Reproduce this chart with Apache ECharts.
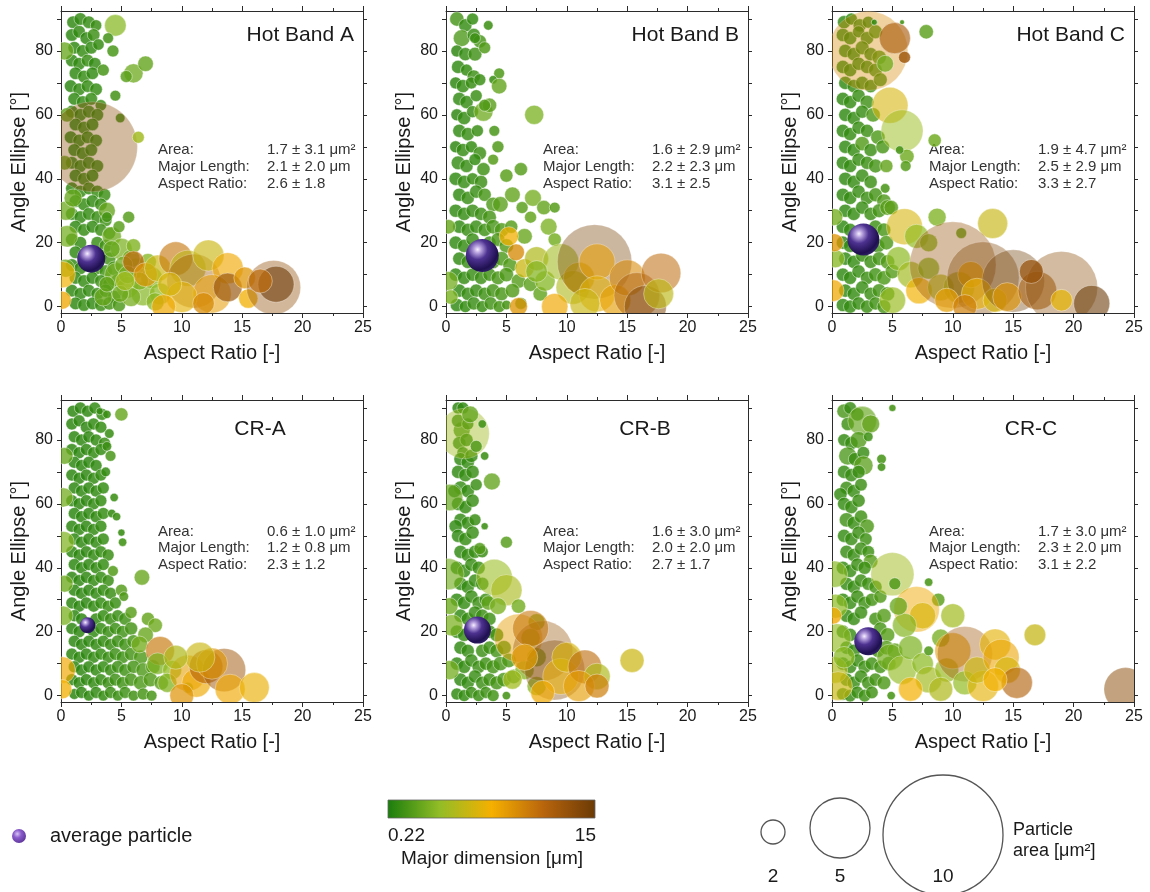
<!DOCTYPE html>
<html>
<head>
<meta charset="utf-8">
<title>Angle ellipse vs aspect ratio</title>
<script src="https://cdn.jsdelivr.net/npm/echarts@6/dist/echarts.min.js"></script>
<style>
html, body { margin: 0; padding: 0; background: #fff; }
#chart { width: 1150px; height: 892px; }
</style>
</head>
<body>
<div id="chart"></div>
<script>
// one particle per entry: [aspect ratio, angle ellipse (deg), area (um2), major dimension (um)]
var hotBandA = [
  [1.0,89,1.05,0.8],[1.6,90,1.05,0.9],[2.3,89,1.05,1.0],[2.9,88,0.95,1.1],
  [0.9,85,1.05,0.7],[1.5,86,1.05,0.9],[2.1,84,1.05,0.8],[2.7,85,1.05,1.2],
  [1.1,81,1.05,0.8],[1.8,80,1.05,1.0],[2.5,81,1.05,0.9],[3.1,82,0.95,1.0],
  [0.9,77,1.05,0.8],[1.5,76,1.05,0.9],[2.2,77,1.05,1.1],[2.8,76,1.05,0.9],
  [1.2,73,1.05,0.8],[1.9,72,1.05,1.0],[2.6,73,1.05,0.9],
  [0.8,69,1.05,0.7],[1.5,68,1.05,0.9],[2.2,69,1.05,1.0],[2.9,68,1.05,1.0],
  [1.1,65,1.05,0.8],[1.8,64,1.05,0.9],[2.5,65,1.05,1.0],[3.3,63,0.95,1.2],
  [0.9,61,1.05,0.8],[1.6,60,1.05,0.9],[2.3,61,1.05,1.0],[3.0,60,1.05,1.1],
  [1.2,57,1.05,0.8],[1.9,56,1.05,1.0],[2.6,57,1.05,0.9],
  [0.8,53,1.05,0.7],[1.5,52,1.05,0.9],[2.2,53,1.05,1.0],[2.9,52,1.05,1.1],
  [1.1,49,1.05,0.8],[1.8,48,1.05,0.9],[2.5,49,1.05,1.0],
  [0.9,45,1.05,0.8],[1.6,44,1.05,0.9],[2.3,45,1.05,1.0],[3.0,44,1.05,1.1],
  [1.2,41,1.05,0.8],[1.9,40,1.05,1.0],[2.6,41,1.05,0.9],
  [0.9,37,1.05,0.8],[1.6,36,1.05,0.9],[2.3,37,1.05,1.0],[3.0,36,1.05,1.1],[3.6,35,1.05,1.2],
  [1.2,33,1.05,0.8],[1.9,32,1.05,1.0],[2.6,33,1.05,0.9],[3.3,32,1.05,1.1],
  [0.9,29,1.05,0.8],[1.6,28,1.05,0.9],[2.3,29,1.05,1.0],[3.0,28,1.05,1.1],[3.7,27,1.05,1.3],
  [1.2,25,1.05,0.8],[1.9,24,1.05,1.0],[2.6,25,1.05,0.9],[3.3,24,1.05,1.2],[4.0,23,1.05,1.3],
  [0.9,21,1.05,0.8],[1.6,20,1.05,0.9],[3.0,20,1.05,1.1],[3.7,19,1.1,1.4],
  [1.2,17,1.05,0.8],[1.9,16,1.05,1.0],[3.3,16,1.05,1.2],[4.0,15,1.1,1.5],
  [0.9,13,1.05,0.8],[1.6,12,1.05,0.9],[2.3,13,1.05,1.0],[3.0,12,1.05,1.1],[3.7,11,1.1,1.4],[4.4,12,1.2,1.6],
  [1.2,9,1.05,0.8],[1.9,8,1.05,1.0],[2.6,9,1.05,0.9],[3.3,8,1.05,1.2],[4.0,7,1.1,1.5],[4.7,8,1.2,1.7],
  [0.9,5,1.05,0.8],[1.6,4,1.05,0.9],[2.3,5,1.05,1.0],[3.0,4,1.05,1.1],[3.7,5,1.1,1.4],[4.4,3,1.1,1.6],
  [1.2,1,1.05,0.8],[1.9,0.5,1.05,1.0],[2.6,1,1.05,0.9],[3.3,0.5,1.05,1.2],[4.0,1,1.1,1.5],[4.8,0.5,1.1,1.7],
  [0.4,30,1.6,2.8],[0.5,22,1.8,3.0],[1.0,34,1.5,2.6],[3.8,30,1.4,2.5],[4.2,22,1.6,2.8],[5.0,18,1.8,3.2],
  [4.6,10,2.0,3.0],[5.5,6,1.8,3.4],[6.2,12,1.7,3.2],[6.8,4,2.0,3.5],[7.5,9,1.8,3.6],[8.2,4,1.8,3.8],
  [5.8,15,1.5,3.0],[3.5,3,1.5,2.6],[0.4,12,1.5,2.7],[0.3,45,1.2,2.5],[0.5,60,1.2,2.3],[0.3,80,1.5,2.6],
  [4.2,18,1.4,2.6],[5.2,13,1.5,2.9],[5.8,3,1.6,3.1],[6.5,8,1.5,3.3],[7.2,14,1.4,3.5],[3.8,7,1.3,2.4],
  [4.9,4,1.4,2.7],[6.0,19,1.2,3.4],[7.8,1.5,1.5,3.6],[5.5,10,1.5,3.0],
  [4.5,88,1.8,3.6],[3.9,84,0.9,1.4],[4.3,80,1.0,1.6],[3.5,74,1.0,1.5],[6.0,73,1.6,2.8],[7.0,76,1.3,2.4],
  [5.4,72,1.0,2.2],[4.5,66,0.9,1.4],[4.9,59,0.8,1.3],[3.8,28,0.9,1.5],[5.6,28,1.0,2.0],[4.8,25,1.0,2.2],
  [2.6,50,7.5,13.5],[6.4,53,1.0,4.5],
  [0.1,10,2.2,7.5],[0.1,2,1.5,8.0],[6.0,14,1.8,11],[7.0,10,2.0,9.0],[8.0,12,2.2,6.0],[9.5,15,2.8,10.5],
  [10.5,12,3.0,5.5],[11.0,8,4.5,12.5],[12.2,16,2.6,6.0],[13.8,12,2.6,8.0],[12.5,4,3.2,8.5],[13.8,6,2.4,13],
  [10.0,3,2.6,7.0],[9.0,7,2.0,6.5],[15.5,2.5,1.6,7.5],[15.2,9,1.8,9.0],[17.6,6,4.5,13],[17.8,7,3.0,15],
  [16.5,8,2.0,11],[8.5,0,2.0,8.0],[11.8,1,1.8,9.5],[5.3,8,1.6,4.5]
];

var hotBandB = [
  [0.9,90,1.2,1.5],[1.6,88,1.1,1.0],[2.2,90,1.0,1.0],
  [1.3,84,1.4,1.7],[2.3,85,1.1,1.1],[2.8,83,1.1,1.6],[3.5,88,0.8,1.2],
  [0.9,80,1.0,0.8],[1.6,79,1.1,1.0],[2.4,79,1.15,1.3],[3.2,81,1.0,1.9],
  [1.0,75,1.1,0.9],[1.7,74,1.0,1.0],[2.3,72,1.1,1.2],
  [0.8,70,1.0,0.8],[1.4,69,1.1,1.0],[2.1,70,1.0,1.1],[2.8,71,1.0,1.2],
  [1.1,65,1.1,0.9],[1.7,64,1.1,1.0],[2.5,66,1.0,1.2],
  [0.9,60,1.0,0.8],[1.5,59,1.1,1.0],[2.2,61,1.0,1.1],[3.1,61,1.6,2.8],[3.6,63,1.2,2.2],
  [1.1,55,1.1,0.9],[1.8,54,1.1,1.1],[2.6,55,1.0,1.1],
  [0.8,50,1.0,0.8],[1.4,49,1.1,1.0],[2.1,50,1.0,1.0],[2.8,48,1.1,1.2],
  [1.0,45,1.15,1.0],[1.7,44,1.1,1.1],[2.4,46,1.0,1.0],[3.1,43,1.1,1.3],
  [0.8,40,1.1,0.9],[1.5,39,1.1,1.0],[2.2,40,1.0,1.1],[2.9,39,1.1,1.2],
  [1.1,35,1.1,0.9],[1.8,34,1.1,1.1],[2.5,36,1.1,1.1],[3.2,35,1.1,1.6],[3.9,32,1.2,1.8],
  [0.8,30,1.1,0.9],[1.5,29,1.1,1.0],[2.2,30,1.1,1.1],[2.9,29,1.1,1.2],[3.6,28,1.15,1.5],
  [1.1,25,1.1,0.9],[1.8,24,1.1,1.1],[2.5,25,1.1,1.1],[3.2,24,1.1,1.3],[3.9,25,1.2,1.6],[4.6,24,1.2,1.8],
  [0.8,20,1.1,0.9],[1.5,19,1.1,1.0],[2.2,21,1.1,1.1],[3.6,20,1.1,1.3],[4.3,21,1.15,1.6],[5.0,19,1.2,1.9],
  [1.1,15,1.1,0.9],[1.8,14,1.1,1.1],[3.9,14,1.15,1.5],[4.6,15,1.2,1.7],[5.3,13,1.2,1.9],
  [0.8,10,1.1,0.9],[1.5,9,1.1,1.0],[2.2,10,1.1,1.1],[2.9,9,1.1,1.2],[3.6,10,1.1,1.4],[4.3,9,1.15,1.6],
  [5.0,10,1.2,1.8],[6.0,8,1.2,2.0],[7.0,7,1.2,2.2],
  [1.1,5,1.1,0.9],[1.8,4,1.1,1.1],[2.5,5,1.1,1.1],[3.2,4,1.1,1.3],[3.9,5,1.15,1.5],[4.6,4,1.15,1.6],
  [5.5,5,1.2,1.9],[7.8,4,1.2,2.4],
  [0.9,0.5,1.1,0.9],[1.6,0,1.0,1.0],[2.3,1,1.1,1.1],[3.0,0,1.0,1.2],[3.7,1,1.1,1.4],[4.4,0,1.0,1.5],
  [5.0,0.5,0.8,1.6],[6.2,1,1.0,1.8],
  [4.4,73,0.9,1.8],[3.9,71,0.7,1.2],[4.4,69,1.3,2.4],[3.2,63,1.0,1.9],[4.0,55,0.9,1.6],[4.3,50,1.0,1.8],
  [3.9,46,0.9,2.0],[5.0,41,1.1,2.1],[6.2,43,1.1,2.0],[7.3,60,1.6,3.2],[5.5,35,1.3,2.4],[4.5,32,1.3,2.2],
  [7.2,34,1.4,3.0],[8.1,31,1.2,2.5],[9.0,31,0.9,2.0],[8.5,25,1.4,3.2],[9.0,21,1.1,3.0],[7.0,28,1.0,2.4],
  [6.3,31,1.0,2.2],[5.4,25,1.1,2.0],[6.5,22,1.3,2.6],[2.4,84,0.9,1.3],
  [0.2,8,1.6,3.0],[0.2,25,1.2,2.6],[0.4,3,1.2,3.2],
  [5.2,22,1.6,7.5],[5.8,17,1.4,9.5],[6.5,12,1.6,6.0],[7.5,15,2.0,5.0],[8.2,8,1.7,3.5],[9.5,14,3.0,4.5],
  [10.5,6,2.8,5.0],[11.0,9,2.6,6.5],[12.3,14,6.2,14.5],[12.5,14,3.0,8.5],[12.5,4,3.0,7.0],[14.0,2,2.6,8.5],
  [15.0,9,3.0,9.5],[15.8,3.5,3.8,12],[16.5,0,3.5,14],[17.8,10.5,3.3,11],[17.6,4,2.5,5.5],[11.5,1,2.5,6.0],
  [9.0,0,2.2,8.0],[6.0,0,1.5,9.0],[7.5,11,1.8,3.5]
];

var hotBandC = [
  [1.0,89,1.1,0.9],[1.6,90,1.0,1.0],[2.3,88,1.1,1.1],[3.0,89,1.0,1.1],
  [0.9,85,1.1,0.9],[1.5,84,1.1,1.0],[2.2,86,1.0,1.1],[2.9,84,1.1,1.2],[3.6,86,1.15,1.6],
  [1.1,80,1.1,0.9],[1.8,79,1.1,1.0],[2.5,81,1.15,1.3],[3.2,79,1.1,1.2],[3.9,78,1.2,1.9],
  [0.9,75,1.1,0.9],[1.5,74,1.1,1.0],[2.2,76,1.1,1.1],[2.9,75,1.1,1.2],[3.6,74,1.15,1.5],
  [1.1,70,1.1,0.9],[1.8,69,1.1,1.0],[2.5,70,1.1,1.1],[3.2,69,1.1,1.2],[4.0,71,1.15,1.6],
  [0.9,65,1.1,0.9],[1.5,64,1.1,1.0],[2.2,66,1.1,1.1],[2.9,64,1.15,1.3],
  [1.1,60,1.1,0.9],[1.8,59,1.1,1.0],[2.5,61,1.1,1.1],[3.4,60,1.2,1.8],
  [0.9,55,1.1,0.9],[1.5,54,1.1,1.0],[2.2,56,1.1,1.1],[2.9,55,1.1,1.2],[3.8,53,1.2,1.7],
  [1.1,50,1.1,0.9],[1.8,49,1.1,1.0],[2.5,51,1.2,1.9],[3.2,49,1.1,1.2],[4.2,50,1.15,1.6],
  [0.9,45,1.1,0.9],[1.5,44,1.1,1.0],[2.2,46,1.1,1.1],[2.9,45,1.1,1.2],[3.6,44,1.15,1.5],
  [1.1,40,1.1,0.9],[1.8,39,1.1,1.0],[2.5,41,1.1,1.1],[3.2,39,1.1,1.2],
  [0.9,35,1.1,0.9],[1.5,34,1.1,1.0],[2.2,36,1.1,1.1],[2.9,34,1.1,1.2],[3.6,35,1.15,1.5],[4.3,33,1.2,1.8],
  [1.1,30,1.1,0.9],[1.8,29,1.1,1.0],[2.5,31,1.1,1.1],[3.2,29,1.1,1.2],[3.9,30,1.15,1.5],[4.6,31,1.3,2.2],
  [0.9,25,1.1,0.9],[1.5,24,1.1,1.0],[3.6,25,1.1,1.3],[4.3,24,1.15,1.6],
  [0.9,20,1.1,0.9],[1.5,19,1.1,1.0],[3.8,19,1.15,1.4],[4.5,20,1.2,1.8],
  [1.1,15,1.1,0.9],[1.8,14,1.1,1.0],[2.5,16,1.1,1.1],[3.2,14,1.1,1.2],[3.9,15,1.15,1.5],[4.6,14,1.2,1.9],
  [0.9,10,1.1,0.9],[1.5,9,1.1,1.0],[2.2,11,1.1,1.1],[2.9,9,1.1,1.2],[3.6,10,1.15,1.4],[4.3,9,1.2,1.7],[5.0,11,1.2,2.0],
  [1.1,5,1.1,0.9],[1.8,4,1.1,1.0],[2.5,6,1.1,1.1],[3.2,4,1.1,1.2],[3.9,5,1.15,1.5],[4.6,4,1.2,1.8],
  [0.9,0.5,1.1,0.9],[1.5,0,1.1,1.0],[2.2,1,1.1,1.1],[2.9,0,1.1,1.2],[3.6,1,1.1,1.4],[4.3,0,1.15,1.6],
  [3.0,80,6.6,9.5],[5.2,84,2.6,12],[6.0,78,1.0,12.5],[4.4,76,1.4,3.0],[4.8,63,3.0,6.5],[5.8,55,3.5,4.3],
  [7.8,86,1.2,2.2],[8.5,52,1.1,2.8],[6.2,47,1.2,2.8],[6.1,44,0.9,2.0],[5.6,49,0.7,1.5],[4.5,44,1.1,2.5],
  [4.4,37,0.8,1.6],[4.9,31,1.2,2.2],[3.5,89,0.5,1.0],[5.8,89,0.4,1.5],
  [0.2,28,1.4,3.0],[0.3,15,1.5,3.6],[0.1,5,1.8,8.0],[0.2,20,1.5,9.0],
  [6.0,25,3.0,6.5],[8.7,28,1.5,3.2],[13.3,26,2.5,5.8],[10.7,23,0.9,2.6],[7.0,22,2.0,4.0],[8.0,20,1.5,3.6],
  [5.5,15,2.0,3.8],[6.5,10,2.2,4.5],[7.2,5,2.2,7.5],[5.0,2,2.2,4.2],[8.0,12,1.8,3.5],[9.0,6,2.2,5.0],
  [10.5,6,2.6,4.8],[10.0,13,7.2,13],[11.5,10,2.2,8.5],[12.5,9,6.0,14],[12.0,4,2.6,7.2],[13.5,2,2.0,6.5],
  [15.0,8,5.2,14.8],[14.5,3,2.4,9.0],[17.0,5,3.2,12],[19.0,6,6.0,13.5],[19.0,2,1.8,7.0],[21.5,1,3.0,15],
  [16.5,11,2.0,13],[9.5,2,2.0,8.5],[11.0,0,2.0,10]
];

var crA = [
  [1.0,89,1.0,0.7],[1.6,90,1.0,0.8],[2.2,89,1.0,0.8],[2.8,90,1.0,0.9],[3.4,88,1.0,1.0],
  [0.9,85,1.0,0.7],[1.5,86,1.0,0.8],[2.1,84,1.0,0.8],[2.7,85,1.0,0.9],[3.3,84,1.0,1.0],
  [1.1,81,1.0,0.7],[1.7,80,1.0,0.8],[2.3,81,1.0,0.8],[2.9,80,1.0,0.9],[3.6,79,1.0,1.1],
  [0.9,77,1.0,0.7],[1.5,76,1.0,0.8],[2.1,77,1.0,0.8],[2.7,76,1.0,0.9],[3.3,77,1.0,1.0],
  [1.1,73,1.0,0.7],[1.7,72,1.0,0.8],[2.3,73,1.0,0.8],[2.9,72,1.0,0.9],
  [0.9,69,1.0,0.7],[1.5,68,1.0,0.8],[2.1,69,1.0,0.8],[2.7,68,1.0,0.9],[3.3,69,1.0,1.0],
  [1.1,65,1.0,0.7],[1.7,64,1.0,0.8],[2.3,65,1.0,0.8],[2.9,64,1.0,0.9],[3.5,65,1.0,1.0],
  [0.9,61,1.0,0.7],[1.5,60,1.0,0.8],[2.1,61,1.0,0.8],[2.7,60,1.0,0.9],[3.3,61,1.0,1.0],
  [1.1,57,1.0,0.7],[1.7,56,1.0,0.8],[2.3,57,1.0,0.8],[2.9,56,1.0,0.9],[3.5,57,1.0,1.0],
  [0.9,53,1.0,0.7],[1.5,52,1.0,0.8],[2.1,53,1.0,0.8],[2.7,52,1.0,0.9],[3.3,53,1.0,1.0],
  [1.1,49,1.0,0.7],[1.7,48,1.0,0.8],[2.3,49,1.0,0.8],[2.9,48,1.0,0.9],[3.5,49,1.0,1.0],
  [0.9,45,1.0,0.7],[1.5,44,1.0,0.8],[2.1,45,1.0,0.8],[2.7,44,1.0,0.9],[3.3,45,1.0,1.0],[3.9,44,1.0,1.1],
  [1.1,41,1.0,0.7],[1.7,40,1.0,0.8],[2.3,41,1.0,0.8],[2.9,40,1.0,0.9],[3.5,41,1.0,1.0],
  [0.9,37,1.0,0.7],[1.5,36,1.0,0.8],[2.1,37,1.0,0.8],[2.7,36,1.0,0.9],[3.3,37,1.0,1.0],[3.9,36,1.0,1.1],
  [1.1,33,1.0,0.7],[1.7,32,1.0,0.8],[2.3,33,1.0,0.8],[2.9,32,1.0,0.9],[3.5,33,1.0,1.0],[4.1,32,1.0,1.1],
  [0.9,29,1.0,0.7],[1.5,28,1.0,0.8],[2.1,29,1.0,0.8],[2.7,28,1.0,0.9],[3.3,29,1.0,1.0],[3.9,28,1.0,1.1],[4.5,29,1.0,1.2],
  [1.1,25,1.0,0.7],[1.7,24,1.0,0.8],[2.9,24,1.0,0.9],[3.5,25,1.0,1.0],[4.1,24,1.0,1.1],[4.7,25,1.0,1.2],[5.3,24,1.05,1.3],
  [0.9,21,1.0,0.7],[1.5,20,1.0,0.8],[2.7,20,1.0,0.9],[3.3,21,1.0,1.0],[3.9,20,1.0,1.1],[4.5,21,1.0,1.2],[5.1,20,1.05,1.3],[5.8,21,1.1,1.5],
  [1.1,17,1.0,0.7],[1.7,16,1.0,0.8],[2.3,17,1.0,0.8],[2.9,16,1.0,0.9],[3.5,17,1.0,1.0],[4.1,16,1.0,1.1],[4.7,17,1.05,1.2],[5.3,16,1.05,1.3],[6.0,17,1.1,1.6],
  [0.9,13,1.0,0.7],[1.5,12,1.0,0.8],[2.1,13,1.0,0.8],[2.7,12,1.0,0.9],[3.3,13,1.0,1.0],[3.9,12,1.0,1.1],[4.5,13,1.05,1.2],[5.1,12,1.05,1.3],[5.8,13,1.1,1.5],[6.6,12,1.2,1.8],
  [1.1,9,1.0,0.7],[1.7,8,1.0,0.8],[2.3,9,1.0,0.8],[2.9,8,1.0,0.9],[3.5,9,1.0,1.0],[4.1,8,1.0,1.1],[4.7,9,1.05,1.2],[5.3,8,1.05,1.3],[6.0,9,1.1,1.5],[6.8,8,1.2,1.8],[7.6,9,1.2,2.0],
  [0.9,5,1.0,0.7],[1.5,4,1.0,0.8],[2.1,5,1.0,0.8],[2.7,4,1.0,0.9],[3.3,5,1.0,1.0],[3.9,4,1.0,1.1],[4.5,5,1.05,1.2],[5.1,4,1.05,1.3],[5.8,5,1.1,1.5],[6.6,4,1.2,1.7],[7.4,5,1.2,1.9],[8.3,4,1.2,2.2],
  [1.1,0.5,0.9,0.7],[1.7,1,1.0,0.8],[2.3,0,0.9,0.8],[2.9,1,1.0,0.9],[3.5,0,0.9,1.0],[4.1,1,1.0,1.1],[4.7,0,0.9,1.2],[5.3,1,1.0,1.3],[6.0,0,0.9,1.4],[6.8,0.5,1.0,1.5],[7.5,0,0.9,1.6],
  [3.2,89,0.6,1.0],[3.8,88,0.7,1.2],[5.0,88,1.1,2.6],[4.0,82,0.8,1.1],[3.8,78,0.8,1.2],[4.1,75,0.9,1.6],
  [3.7,70,0.8,1.0],[4.4,62,0.7,1.2],[4.2,57,0.7,1.0],[4.6,56,0.7,1.2],[5.0,51,0.6,1.1],[5.1,48,0.7,1.4],
  [4.3,39,0.9,1.9],[5.0,33,1.0,2.0],[5.2,31,0.8,1.8],[6.7,37,1.3,2.6],[5.8,26,1.0,2.2],[7.2,24,1.1,2.5],
  [7.8,22,1.2,2.8],[7.0,19,1.3,2.6],[6.5,16,1.4,3.0],[8.2,14,2.4,10.5],[8.0,10,1.8,3.2],[9.2,8,1.6,4.0],
  [8.8,4,1.6,3.4],[10.5,2.5,0.9,2.2],
  [0.2,62,1.6,3.0],[0.2,48,1.8,3.4],[0.3,35,1.4,2.8],[0.2,25,1.6,3.2],[0.3,75,1.4,2.6],[0.1,8,2.2,8.0],[0.1,2,1.6,7.5],
  [10.5,7,3.0,8.5],[11.2,4,2.4,8.0],[12.0,9,2.8,11.5],[13.5,8,3.6,12.5],[12.5,10,2.6,9.0],[11.5,12,2.5,6.0],
  [14.0,2,2.5,8.0],[16.0,2.5,2.5,7.2],[10.0,0,2.0,9.0],[9.5,12,2.0,5.0]
];

var crB = [
  [1.0,90,1.0,0.8],[1.4,90,1.0,0.9],
  [1.3,83,1.4,1.6],[1.0,86,1.1,1.1],[1.8,85,1.0,1.0],
  [1.1,79,1.1,0.9],[1.7,80,1.1,1.0],[1.4,76,1.0,0.9],
  [1.2,74,1.1,0.9],[1.8,73,1.1,1.0],[2.1,75,1.1,1.1],
  [1.0,70,1.1,0.9],[1.6,69,1.1,1.0],[2.2,70,1.1,1.1],
  [1.2,65,1.15,1.0],[1.8,64,1.1,1.0],[2.5,66,1.0,1.2],[0.7,64,1.1,0.9],
  [1.0,60,1.1,0.9],[1.6,59,1.1,1.0],[2.2,61,1.1,1.1],
  [1.2,55,1.1,0.9],[1.8,54,1.1,1.0],[2.4,55,1.0,1.1],[0.8,53,1.1,0.9],
  [1.0,50,1.1,0.9],[1.6,49,1.1,1.0],[2.2,51,1.1,1.1],
  [1.2,45,1.1,0.9],[1.8,44,1.1,1.0],[2.4,45,1.1,1.1],[3.0,45,1.0,1.2],
  [0.9,40,1.1,0.9],[1.5,39,1.1,1.0],[2.1,41,1.1,1.1],[2.7,40,1.1,1.2],
  [1.2,35,1.1,0.9],[1.8,34,1.1,1.0],[2.4,36,1.1,1.1],[3.0,35,1.1,1.2],
  [0.9,30,1.1,0.9],[1.5,29,1.1,1.0],[2.1,31,1.1,1.1],[2.7,29,1.1,1.2],[3.3,30,1.1,1.3],
  [1.2,25,1.1,0.9],[1.8,24,1.1,1.0],[2.4,26,1.1,1.1],[3.0,25,1.1,1.2],[3.6,24,1.1,1.3],
  [0.9,20,1.1,0.9],[1.5,19,1.1,1.0],[3.6,20,1.1,1.3],[4.2,19,1.15,1.5],
  [1.2,15,1.1,0.9],[1.8,14,1.1,1.0],[3.0,14,1.1,1.2],[3.6,15,1.1,1.3],[4.2,14,1.15,1.5],[4.8,15,1.2,1.7],
  [0.9,10,1.1,0.9],[1.5,9,1.1,1.0],[2.1,11,1.1,1.1],[2.7,9,1.1,1.2],[3.3,10,1.1,1.3],[3.9,9,1.15,1.5],[4.5,10,1.2,1.6],[5.2,11,1.2,1.8],
  [1.2,5,1.1,0.9],[1.8,4,1.1,1.0],[2.4,6,1.1,1.1],[3.0,4,1.1,1.2],[3.6,5,1.1,1.3],[4.2,4,1.15,1.5],[4.8,5,1.2,1.7],[5.6,6,1.2,1.9],
  [0.9,0.5,1.0,0.9],[1.5,0,1.0,1.0],[2.1,1,1.0,1.1],[2.7,0,1.0,1.2],[3.3,1,1.0,1.3],[3.9,0,1.0,1.4],[5.0,0,0.7,1.5],
  [1.5,82,4.2,4.5],[0.3,62,2.2,2.6],[0.2,38,2.6,3.0],[0.5,22,1.8,3.2],[0.3,8,1.6,3.0],[2.0,88,1.4,2.4],
  [3.0,85,0.7,1.3],[2.5,78,1.0,1.8],[3.2,75,0.7,1.2],[3.8,67,1.4,2.4],[3.2,53,0.6,1.2],[5.0,48,1.0,2.0],
  [2.8,46,1.0,1.9],[4.0,37,3.0,4.2],[5.0,33,2.6,4.8],[3.5,29,1.2,2.4],[4.3,28,1.4,3.2],[6.0,28,1.2,3.0],
  [7.5,23,1.4,3.4],[7.0,18,1.6,3.2],[7.5,12,1.6,3.0],[6.5,8,1.6,3.5],[7.5,3,1.6,3.6],[0.3,28,1.4,2.8],
  [6.0,18,4.0,8.5],[8.0,14,5.0,12.8],[7.0,21,3.0,10.5],[9.0,8,5.0,14],[9.5,6,3.0,7.2],[10.0,12,2.5,6.5],
  [11.5,9,2.8,11],[12.5,6,2.2,5.0],[15.4,11,2.0,6.0],[11.0,3,2.6,8.5],[8.0,1,2.0,8.0],[12.5,3,2.0,10],
  [5.5,5,1.6,4.5],[6.5,12,2.2,8.5]
];

var crC = [
  [1.0,89,1.2,1.6],[1.5,90,1.05,1.1],[2.1,88,1.1,1.3],
  [1.3,85,1.1,1.3],[2.5,86,2.4,2.6],[3.2,85,1.5,2.4],
  [1.0,80,1.05,1.0],[1.6,79,1.1,1.1],[2.2,80,1.4,1.8],
  [1.3,75,1.5,1.6],[1.9,74,1.1,1.2],[2.6,76,1.05,1.1],[2.6,72,1.6,2.2],
  [1.0,70,1.1,1.0],[1.6,69,1.1,1.1],[2.2,70,1.1,1.2],
  [1.2,65,1.1,1.2],[1.8,64,1.1,1.1],[2.4,66,1.05,1.2],[0.7,63,1.1,1.0],
  [1.0,60,1.1,1.0],[1.6,59,1.1,1.1],[2.2,61,1.1,1.2],
  [1.2,55,1.2,1.3],[1.8,54,1.1,1.1],[2.4,56,1.1,1.3],[2.9,53,1.2,1.8],
  [1.0,50,1.1,1.0],[1.6,49,1.1,1.1],[2.2,51,1.1,1.2],[2.8,49,1.05,1.3],
  [1.2,45,1.1,1.1],[1.8,44,1.1,1.1],[2.4,46,1.1,1.2],[3.0,45,1.05,1.3],[3.2,42,1.2,2.0],
  [0.9,40,1.1,1.0],[1.5,39,1.1,1.1],[2.1,41,1.1,1.2],[2.7,40,1.1,1.3],
  [1.2,35,1.1,1.0],[1.8,34,1.1,1.1],[2.4,36,1.1,1.2],[3.0,35,1.1,1.3],[3.6,34,1.1,1.6],
  [0.9,30,1.1,1.0],[1.5,29,1.1,1.1],[2.1,31,1.1,1.2],[2.7,29,1.1,1.3],[3.3,30,1.1,1.5],[4.0,31,1.1,1.9],
  [1.2,25,1.1,1.0],[1.8,24,1.1,1.1],[2.4,26,1.1,1.2],[3.6,24,1.1,1.5],[4.3,25,1.2,2.0],
  [0.9,20,1.1,1.0],[1.5,19,1.1,1.1],[4.0,21,1.1,1.6],[4.6,19,1.2,2.1],
  [1.2,15,1.1,1.0],[1.8,14,1.1,1.1],[3.8,14,1.1,1.6],[4.5,15,1.2,2.0],[5.2,14,1.3,2.4],
  [0.9,10,1.1,1.0],[1.5,9,1.1,1.1],[2.1,11,1.1,1.2],[2.7,9,1.1,1.3],[3.3,10,1.1,1.4],[4.0,9,1.1,1.6],[4.7,10,1.2,2.0],
  [1.2,5,1.1,1.0],[1.8,4,1.1,1.1],[2.4,6,1.1,1.2],[3.0,4,1.1,1.3],[3.6,5,1.1,1.5],[4.3,4,1.15,1.8],
  [0.9,0.5,1.05,1.0],[1.5,0,1.05,1.1],[2.1,1,1.05,1.2],[2.7,0,1.05,1.3],[3.3,1,1.05,1.4],[4.9,0,0.7,1.6],
  [5.0,90,0.6,1.5],[4.1,74,0.8,1.5],[4.1,71.5,0.7,1.4],[3.0,81,0.8,1.3],
  [0.2,38,2.2,3.6],[0.3,28,2.0,3.8],[0.4,18,2.4,4.0],[0.2,8,2.2,5.0],[0.5,3,2.4,6.0],[1.0,12,1.8,3.6],
  [5.0,38,3.6,4.5],[5.2,35,1.0,1.8],[8.0,35.5,0.7,1.6],[8.8,30,1.1,2.2],[7.0,27,3.8,8.0],[7.5,25,2.2,6.5],
  [10.0,25,2.0,4.5],[6.0,22,2.0,3.5],[5.5,28,1.5,2.6],[4.8,12,2.2,3.0],[5.8,8,2.4,4.0],[6.5,15,2.0,3.2],
  [7.5,10,1.8,3.8],[8.0,14,0.8,1.8],[8.0,5,2.2,4.5],[9.0,18,1.5,3.0],[9.5,8,2.0,4.2],[9.0,2,2.0,5.0],
  [10.0,14,3.0,8.5],[11.0,13,4.6,12.5],[11.0,4,2.0,4.0],[12.5,3,2.6,7.0],[12.0,8,2.2,6.0],[13.5,16,2.6,7.0],
  [14.0,12,3.0,8.2],[14.5,8,2.2,6.5],[15.3,4,2.6,11.5],[13.5,5,2.0,7.5],[16.8,19,1.8,5.8],[24.3,2,3.6,13.5],
  [6.5,2,2.0,7.5],[0.1,25,1.4,8.0]
];

var panels = [hotBandA, hotBandB, hotBandC, crA, crB, crC];
var panelNames = ['Hot Band A', 'Hot Band B', 'Hot Band C', 'CR-A', 'CR-B', 'CR-C'];
var areaStats = ['1.7 ± 3.1 μm²', '1.6 ± 2.9 μm²', '1.9 ± 4.7 μm²', '0.6 ± 1.0 μm²', '1.6 ± 3.0 μm²', '1.7 ± 3.0 μm²'];
var lengthStats = ['2.1 ± 2.0 μm', '2.2 ± 2.3 μm', '2.5 ± 2.9 μm', '1.2 ± 0.8 μm', '2.0 ± 2.0 μm', '2.3 ± 2.0 μm'];
var ratioStats = ['2.6 ± 1.8', '3.1 ± 2.5', '3.3 ± 2.7', '2.3 ± 1.2', '2.7 ± 1.7', '3.1 ± 2.2'];
// average particle: [aspect ratio, angle]
var avgParticles = [[2.5, 15], [3.0, 16], [2.6, 21], [2.2, 22], [2.6, 20.5], [3.0, 17]];
var yTickValues = [0, 20, 40, 60, 80];
var yMinorValues = [0, 10, 20, 30, 40, 50, 60, 70, 80, 90];
var legendAreas = [2, 5, 10];
var majorRange = [0.22, 15];

// ---- styling / layout ----
var FONT = 'Liberation Sans, Arial, sans-serif';
var majorColors = ['#1a7d0c', '#92bd26', '#f5b000', '#b8650c', '#6b3a05'];
var PX_PER_AREA = 12;            // bubble diameter per um2
var avgSizes = [28, 33, 32, 16, 27, 28];
var colLeft = [61, 446, 832];
var rowTop = [11, 400];
var plotW = 302, plotH = 302;
var axisColor = '#2b2b2b';
var textColor = '#1a1a1a';

var myChart = echarts.init(document.getElementById('chart'));

var grids = [], xAxes = [], yAxes = [], series = [], graphics = [];

panels.forEach(function (pts, i) {
  var col = i % 3, row = Math.floor(i / 3);
  grids.push({ left: colLeft[col], top: rowTop[row], width: plotW, height: plotH });

  var tickLine = { color: axisColor, width: 1 };
  var lineStyle = { onZero: false, lineStyle: { color: axisColor, width: 1 } };

  xAxes.push({
    gridIndex: i, type: 'value', min: 0, max: 25, interval: 5, position: 'bottom',
    name: 'Aspect Ratio [-]', nameLocation: 'middle', nameGap: 30,
    nameTextStyle: { fontSize: 20, color: textColor, fontFamily: FONT },
    axisLine: lineStyle,
    axisTick: { show: true, length: 5, lineStyle: tickLine },
    minorTick: { show: true, splitNumber: 2, length: 3, lineStyle: tickLine },
    axisLabel: { fontSize: 16, color: textColor, fontFamily: FONT, margin: 7 },
    splitLine: { show: false }
  });
  xAxes.push({
    gridIndex: i, type: 'value', min: 0, max: 25, interval: 5, position: 'top',
    axisLine: lineStyle,
    axisTick: { show: true, length: 5, lineStyle: tickLine },
    minorTick: { show: true, splitNumber: 2, length: 3, lineStyle: tickLine },
    axisLabel: { show: false }, splitLine: { show: false }
  });
  yAxes.push({
    gridIndex: i, type: 'value', min: -2, max: 92.5, position: 'left',
    name: 'Angle Ellipse [°]', nameLocation: 'middle', nameGap: 32,
    nameTextStyle: { fontSize: 20, color: textColor, fontFamily: FONT },
    axisLine: lineStyle,
    axisTick: { show: true, length: 4, customValues: yMinorValues, lineStyle: tickLine },
    axisLabel: { fontSize: 16, color: textColor, fontFamily: FONT, margin: 8, customValues: yTickValues },
    splitLine: { show: false }
  });
  yAxes.push({
    gridIndex: i, type: 'value', min: -2, max: 92.5, position: 'right',
    axisLine: lineStyle,
    axisTick: { show: true, length: 4, customValues: yMinorValues, lineStyle: tickLine },
    axisLabel: { show: false }, splitLine: { show: false }
  });

  series.push({
    type: 'custom',
    xAxisIndex: 2 * i, yAxisIndex: 2 * i,
    clip: true,
    encode: { x: 0, y: 1 },
    data: pts,
    renderItem: function (params, api) {
      var p = api.coord([api.value(0), api.value(1)]);
      var area = api.value(2);
      var r = area * PX_PER_AREA / 2;
      var op = Math.max(0.38, 0.95 - 0.12 * area);
      return {
        type: 'circle',
        shape: { cx: p[0], cy: p[1], r: r },
        style: { fill: api.visual('color'), opacity: op, stroke: 'rgba(255,255,255,0.8)', lineWidth: 0.7 }
      };
    }
  });

  // panel title
  if (row === 0) {
    graphics.push({ type: 'text', x: colLeft[col] + plotW - 9, y: rowTop[row] + 24,
      style: { text: panelNames[i], fontSize: 21, fontFamily: FONT, fill: textColor, align: 'right', verticalAlign: 'middle' } });
  } else {
    graphics.push({ type: 'text', x: colLeft[col] + 199, y: rowTop[row] + 29,
      style: { text: panelNames[i], fontSize: 21, fontFamily: FONT, fill: textColor, align: 'center', verticalAlign: 'middle' } });
  }

  // statistics block
  var sy = row === 0 ? [150, 167, 184] : [532, 548, 565];
  var labels = ['Area:', 'Major Length:', 'Aspect Ratio:'];
  var values = [areaStats[i], lengthStats[i], ratioStats[i]];
  for (var k = 0; k < 3; k++) {
    graphics.push({ type: 'text', x: colLeft[col] + 97, y: sy[k],
      style: { text: labels[k], fontSize: 15, fontFamily: FONT, fill: '#333', verticalAlign: 'middle' } });
    graphics.push({ type: 'text', x: colLeft[col] + 206, y: sy[k],
      style: { text: values[k], fontSize: 15, fontFamily: FONT, fill: '#333', verticalAlign: 'middle' } });
  }
});

var sphereFill = {
  type: 'radial', x: 0.36, y: 0.32, r: 0.72,
  colorStops: [
    { offset: 0, color: '#f6efff' },
    { offset: 0.16, color: '#b49ddc' },
    { offset: 0.42, color: '#4d3290' },
    { offset: 0.85, color: '#1f1050' },
    { offset: 1, color: '#2e2166' }
  ]
};

avgParticles.forEach(function (pt, i) {
  series.push({
    type: 'scatter',
    xAxisIndex: 2 * i, yAxisIndex: 2 * i,
    data: [pt],
    symbolSize: avgSizes[i],
    z: 5,
    itemStyle: { color: sphereFill, opacity: 1 }
  });
});

// ---- bottom legend ----
graphics.push({ type: 'circle', shape: { cx: 19, cy: 836, r: 7 },
  style: { fill: { type: 'radial', x: 0.38, y: 0.35, r: 0.7,
    colorStops: [{ offset: 0, color: '#d8c4f4' }, { offset: 0.4, color: '#8a5ccc' }, { offset: 1, color: '#5d3498' }] } } });
graphics.push({ type: 'text', x: 50, y: 836,
  style: { text: 'average particle', fontSize: 20, fontFamily: FONT, fill: textColor, verticalAlign: 'middle' } });

graphics.push({ type: 'rect', shape: { x: 388, y: 800, width: 207, height: 18 },
  style: { fill: { type: 'linear', x: 0, y: 0, x2: 1, y2: 0,
    colorStops: majorColors.map(function (c, k) { return { offset: k / (majorColors.length - 1), color: c }; }) },
    stroke: '#666', lineWidth: 0.8 } });
graphics.push({ type: 'text', x: 388, y: 836,
  style: { text: String(majorRange[0]), fontSize: 19, fontFamily: FONT, fill: textColor, verticalAlign: 'middle' } });
graphics.push({ type: 'text', x: 596, y: 836,
  style: { text: String(majorRange[1]), fontSize: 19, fontFamily: FONT, fill: textColor, align: 'right', verticalAlign: 'middle' } });
graphics.push({ type: 'text', x: 492, y: 859,
  style: { text: 'Major dimension [μm]', fontSize: 19, fontFamily: FONT, fill: textColor, align: 'center', verticalAlign: 'middle' } });

var legendCx = [773, 840, 943], legendCy = [832, 828, 835];
legendAreas.forEach(function (a, k) {
  graphics.push({ type: 'circle', shape: { cx: legendCx[k], cy: legendCy[k], r: a * PX_PER_AREA / 2 },
    style: { fill: 'none', stroke: '#555', lineWidth: 1.3 } });
  graphics.push({ type: 'text', x: legendCx[k], y: 877,
    style: { text: String(a), fontSize: 19, fontFamily: FONT, fill: textColor, align: 'center', verticalAlign: 'middle' } });
});
graphics.push({ type: 'text', x: 1013, y: 830,
  style: { text: 'Particle', fontSize: 18, fontFamily: FONT, fill: textColor, verticalAlign: 'middle' } });
graphics.push({ type: 'text', x: 1013, y: 851,
  style: { text: 'area [μm²]', fontSize: 18, fontFamily: FONT, fill: textColor, verticalAlign: 'middle' } });

var option = {
  backgroundColor: '#ffffff',
  animation: false,
  textStyle: { fontFamily: FONT },
  grid: grids,
  xAxis: xAxes,
  yAxis: yAxes,
  visualMap: [{
    type: 'continuous', show: false, dimension: 3,
    min: majorRange[0], max: majorRange[1],
    seriesIndex: [0, 1, 2, 3, 4, 5],
    inRange: { color: majorColors }
  }],
  series: series,
  graphic: graphics
};

myChart.setOption(option);
</script>
</body>
</html>
